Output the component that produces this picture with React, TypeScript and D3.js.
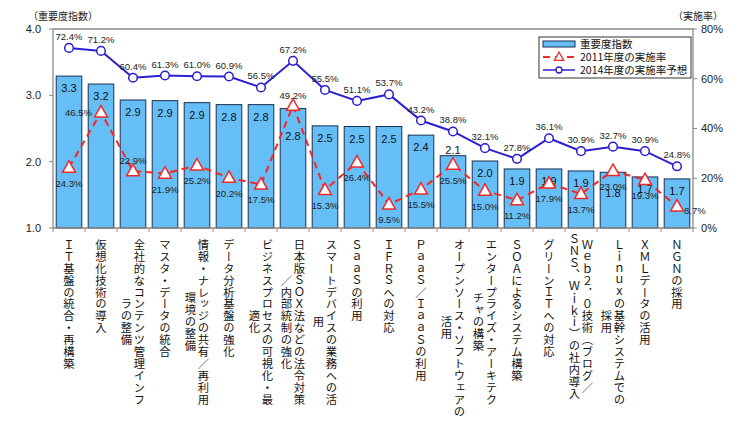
import React from "react";
import * as d3 from "d3";

// categories, each split into the columns shown under the axis
const categoryLines: string[][] = [
  ["ＩＴ基盤の統合・再構築"],
  ["仮想化技術の導入"],
  ["全社的なコンテンツ管理インフ", "ラの整備"],
  ["マスタ・データの統合"],
  ["情報・ナレッジの共有／再利用", "環境の整備"],
  ["データ分析基盤の強化"],
  ["ビジネスプロセスの可視化・最", "適化"],
  ["日本版ＳＯＸ法などの法令対策", "／内部統制の強化"],
  ["スマートデバイスの業務への活", "用"],
  ["ＳａａＳの利用"],
  ["ＩＦＲＳへの対応"],
  ["ＰａａＳ／ＩａａＳの利用"],
  ["オープンソース・ソフトウェアの", "活用"],
  ["エンタープライズ・アーキテク", "チャの構築"],
  ["ＳＯＡによるシステム構築"],
  ["グリーンＩＴへの対応"],
  ["Ｗｅｂ２．０技術（ブログ／", "ＳＮＳ、Ｗｉｋｉ）の社内導入"],
  ["Ｌｉｎｕｘの基幹システムでの", "採用"],
  ["ＸＭＬデータの活用"],
  ["ＮＧＮの採用"],
];

const importance = [3.29, 3.17, 2.93, 2.92, 2.89, 2.86, 2.86, 2.8, 2.54, 2.53, 2.53, 2.4, 2.09, 2.01, 1.89, 1.89, 1.86, 1.84, 1.77, 1.74];
const importanceLabels = ["3.3", "3.2", "2.9", "2.9", "2.9", "2.8", "2.8", "2.8", "2.5", "2.5", "2.5", "2.4", "2.1", "2.0", "1.9", "1.9", "1.9", "1.8", "1.7", "1.7"];
const rate2011 = [24.3, 46.5, 22.9, 21.9, 25.2, 20.2, 17.5, 49.2, 15.3, 26.4, 9.5, 15.5, 25.5, 15.0, 11.2, 17.9, 13.7, 23.0, 19.3, 8.7];
const rate2014 = [72.4, 71.2, 60.4, 61.3, 61.0, 60.9, 56.5, 67.2, 55.5, 51.1, 53.7, 43.2, 38.8, 32.1, 27.8, 36.1, 30.9, 32.7, 30.9, 24.8];
const leftTicks = [1, 2, 3, 4];
const rightTicks = [0, 20, 40, 60, 80];
const legendNames = ["重要度指数", "2011年度の実施率", "2014年度の実施率予想"];

// where the 2011 labels sit (most are below the marker)
const label2011Pos: Record<number, string> = { 1: "left", 2: "above", 7: "above", 19: "right" };
// hand nudges of the bar value labels, as in the original
const barLabelNudge: Record<number, number> = { 7: 15, 12: -18, 17: 9 };

const BAR_FILL = "#66BEF6";
const BAR_STROKE = "#1B2F52";
const RED = "#F02828";
const BLUE = "#2B1FD0";
const JP = "'Noto Sans CJK JP', sans-serif";
const NUM = "'Liberation Sans', Arial, sans-serif";

const W = 754;
const H = 421;
const plot = { left: 53, right: 693, top: 29, bottom: 228 };

const tri = (cx: number, cy: number, s: number) =>
  `M${cx},${cy - s * 0.62}L${cx + s * 0.58},${cy + s * 0.42}L${cx - s * 0.58},${cy + s * 0.42}Z`;

export default function App() {
  const idx = d3.range(importance.length).map(String);
  const x = d3.scaleBand().domain(idx).range([plot.left, plot.right]).paddingInner(0.2).paddingOuter(0.1);
  const step = x.step();
  const cx = (i: number) => (x(String(i)) as number) + x.bandwidth() / 2;
  const yL = d3.scaleLinear().domain([1, 4]).range([plot.bottom, plot.top]);
  const yR = d3.scaleLinear().domain([0, 80]).range([plot.bottom, plot.top]);

  const line11 = d3.line<number>().x((_, i) => cx(i)).y((d) => yR(d));
  const line14 = d3.line<number>().x((_, i) => cx(i)).y((d) => yR(d));

  const boundaries = d3.range(importance.length + 1).map((i) => plot.left + i * step);

  const fs = 11.3;
  const pitch = 11.9;
  const colGap = 13;
  const labelTop = 239;
  const catStyle = {
    writingMode: "vertical-rl",
    textOrientation: "upright",
    letterSpacing: pitch - fs + "px",
  } as any;

  return (
    <svg width={W} height={H} style={{ position: "absolute", left: 0, top: 0, background: "#fff" }}>
      <rect width={W} height={H} fill="#fff" />

      {/* axis titles */}
      <text x={28} y={20} fontFamily={JP} fontSize={10} fill="#222">（重要度指数）</text>
      <text x={673} y={20} fontFamily={JP} fontSize={10} fill="#222">（実施率）</text>

      {/* plot frame */}
      <path
        d={`M${plot.left},${plot.bottom}V${plot.top}H${plot.right}V${plot.bottom}`}
        fill="none"
        stroke="#8a8a8a"
        strokeWidth={1.3}
      />

      {/* left axis */}
      {leftTicks.map((t) => (
        <g key={"l" + t}>
          <line x1={plot.left - 4} x2={plot.left} y1={yL(t)} y2={yL(t)} stroke="#8a8a8a" />
          <text x={41} y={yL(t)} dy="0.36em" textAnchor="end" fontFamily={NUM} fontSize={11} fill="#222">
            {t.toFixed(1)}
          </text>
        </g>
      ))}

      {/* right axis */}
      {rightTicks.map((t) => (
        <g key={"r" + t}>
          <line x1={plot.right} x2={plot.right + 4} y1={yR(t)} y2={yR(t)} stroke="#8a8a8a" />
          <text x={701} y={yR(t)} dy="0.36em" fontFamily={NUM} fontSize={11} fill="#222">
            {t}%
          </text>
        </g>
      ))}

      {/* bars */}
      {importance.map((v, i) => (
        <rect
          key={"b" + i}
          x={x(String(i))}
          y={yL(v)}
          width={x.bandwidth()}
          height={yL(1) - yL(v)}
          fill={BAR_FILL}
          stroke={BAR_STROKE}
          strokeWidth={1}
        />
      ))}

      {/* x axis */}
      <line x1={plot.left} x2={plot.right} y1={plot.bottom} y2={plot.bottom} stroke="#8a8a8a" strokeWidth={1.3} />
      {boundaries.map((b, i) => (
        <line key={"t" + i} x1={b} x2={b} y1={plot.bottom} y2={plot.bottom + 4} stroke="#8a8a8a" />
      ))}

      {/* bar value labels */}
      {importance.map((v, i) => (
        <text
          key={"bl" + i}
          x={cx(i)}
          y={yL(v) + 16 + (barLabelNudge[i] || 0)}
          textAnchor="middle"
          fontFamily={NUM}
          fontSize={11}
          fill="#111"
        >
          {importanceLabels[i]}
        </text>
      ))}

      {/* 2011 line */}
      <path d={line11(rate2011) || ""} fill="none" stroke={RED} strokeWidth={2} strokeDasharray="7,5" />
      {rate2011.map((v, i) => (
        <path key={"m11" + i} d={tri(cx(i), yR(v), 11)} fill="#fff" stroke={RED} strokeWidth={1.5} />
      ))}

      {/* 2014 line */}
      <path d={line14(rate2014) || ""} fill="none" stroke={BLUE} strokeWidth={2} />
      {rate2014.map((v, i) => (
        <circle key={"m14" + i} cx={cx(i)} cy={yR(v)} r={4.3} fill="#fff" stroke={BLUE} strokeWidth={1.5} />
      ))}

      {/* 2014 labels */}
      {rate2014.map((v, i) => (
        <text
          key={"l14" + i}
          x={cx(i)}
          y={yR(v) - 8}
          textAnchor="middle"
          fontFamily={NUM}
          fontSize={9.5}
          fill="#222"
        >
          {v.toFixed(1)}%
        </text>
      ))}

      {/* 2011 labels */}
      {rate2011.map((v, i) => {
        const pos = label2011Pos[i] || "below";
        let lx = cx(i);
        let ly = yR(v) + 19;
        let anchor = "middle";
        if (pos === "above") ly = yR(v) - 7;
        if (pos === "left") {
          lx = cx(i) - 9;
          ly = yR(v) + 4;
          anchor = "end";
        }
        if (pos === "right") {
          lx = cx(i) + 7;
          ly = yR(v) + 8;
          anchor = "start";
        }
        return (
          <text key={"l11" + i} x={lx} y={ly} textAnchor={anchor} fontFamily={NUM} fontSize={9.5} fill="#222">
            {v.toFixed(1)}%
          </text>
        );
      })}

      {/* category labels, vertical; first column starts at the top, others centred on it */}
      {categoryLines.map((lines, i) => {
        const firstMid = labelTop + (lines[0].length * pitch) / 2;
        return lines.map((l, j) => (
          <text
            key={"c" + i + "-" + j}
            x={cx(i) + ((lines.length - 1) / 2) * colGap - j * colGap}
            y={j === 0 ? labelTop : firstMid}
            textAnchor={j === 0 ? "start" : "middle"}
            fontFamily={JP}
            fontSize={fs}
            fill="#111"
            style={catStyle}
          >
            {l}
          </text>
        ));
      })}

      {/* legend */}
      <g>
        <rect x={539} y={37} width={152} height={41} fill="#fff" stroke="#333" strokeWidth={1} />
        <rect x={543} y={41} width={32} height={6} fill={BAR_FILL} stroke={BAR_STROKE} />
        <line x1={543} x2={575} y1={57} y2={57} stroke={RED} strokeWidth={2} strokeDasharray="7,5" />
        <path d={tri(559, 57, 8)} fill="#fff" stroke={RED} strokeWidth={1.3} />
        <line x1={543} x2={575} y1={70} y2={70} stroke={BLUE} strokeWidth={1.5} />
        <circle cx={559} cy={70} r={3} fill="#fff" stroke={BLUE} strokeWidth={1.3} />
        {legendNames.map((n, i) => (
          <text key={"lg" + i} x={580} y={44 + i * 13} dy="0.36em" fontFamily={JP} fontSize={10.5} fill="#111">
            {n}
          </text>
        ))}
      </g>
    </svg>
  );
}
